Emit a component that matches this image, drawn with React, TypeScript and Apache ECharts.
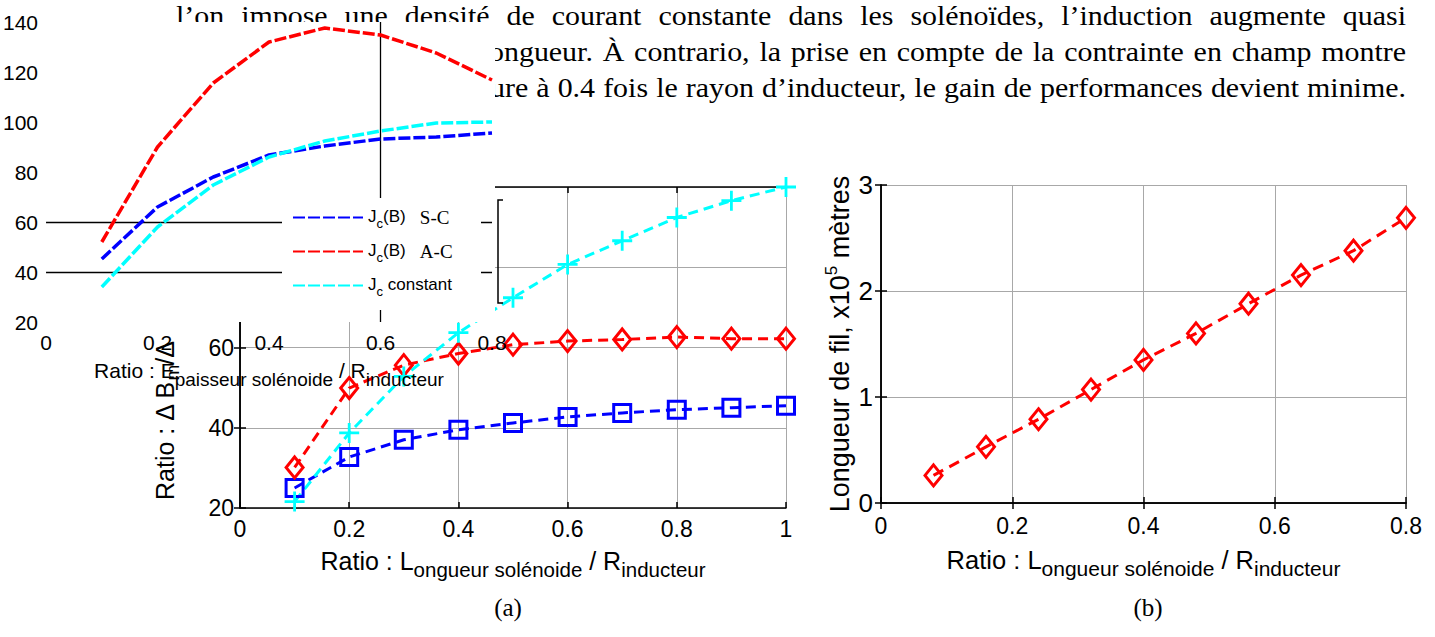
import React, { useEffect, useRef } from 'react';
import * as echarts from 'echarts';

const W = 1435;
const H = 637;
const SANS = 'Liberation Sans, Arial, sans-serif';
const SERIF = 'Liberation Serif, Times New Roman, serif';

// ---- data: chart (a) ----
const xA = [0.1, 0.2, 0.3, 0.4, 0.5, 0.6, 0.7, 0.8, 0.9, 1.0];
const aSC = [25, 32.7, 37, 39.5, 41.2, 42.7, 43.7, 44.5, 45, 45.5];
const aAC = [30.1, 49.9, 55.6, 58.5, 60.7, 61.6, 62, 62.6, 62.2, 62.2];
const aConst = [21.6, 38.7, 52.8, 63.7, 72.4, 80.7, 86.6, 92.4, 96.6, 100];

// ---- data: inset (épaisseur) ----
const xInset = [0.1, 0.2, 0.3, 0.4, 0.5, 0.6, 0.7, 0.8];
const insSC = [45.2, 66, 78, 86.8, 90.4, 93.2, 94, 95.6];
const insAC = [52, 90, 115.6, 132, 137.6, 134.8, 127.6, 116.8];
const insConst = [34, 58, 74.8, 86, 92.4, 96.4, 99.6, 100];
const insMarkY = [40, 60];
const insMarkX = [0.6];

// ---- data: chart (b) ----
const xB = [0.08, 0.16, 0.24, 0.32, 0.4, 0.48, 0.56, 0.64, 0.72, 0.8];
const bLen = [0.26, 0.53, 0.79, 1.07, 1.35, 1.6, 1.88, 2.15, 2.38, 2.69];

// ---- legend / text ----
const legendNames = ['S-C', 'A-C', 'constant'];
const paraLines = [
  'l’on impose une densité de courant constante dans les solénoïdes, l’induction augmente quasi',
  'ongueur. À contrario, la prise en compte de la contrainte en champ montre',
  'ure à 0.4 fois le rayon d’inducteur, le gain de performances devient minime.',
];

const zip = (xs: number[], ys: number[]) => xs.map((x, i) => [x, ys[i]]);

const PLUS = 'path://M4.3,0H5.7V4.3H10V5.7H5.7V10H4.3V5.7H0V4.3H4.3Z';

function axisBase(extra: any) {
  return {
    axisLine: { show: true, lineStyle: { color: '#000', width: 1.5 } },
    axisTick: { show: true, inside: true, length: 6, lineStyle: { color: '#000', width: 1.5 } },
    splitLine: { show: false },
    axisLabel: { show: false },
    ...extra,
  };
}

export default function App() {
  const ref = useRef<HTMLDivElement>(null);
  useEffect(() => {
    const chart = echarts.init(ref.current!, null, { renderer: 'svg' });

    // paragraph words, justified (the scanned text is slightly stretched horizontally)
    const canvas = document.createElement('canvas');
    const ctx = canvas.getContext('2d')!;
    const pSize = 28;
    ctx.font = `${pSize}px ${SERIF}`;
    const paraStarts = [176, 489, 490];
    const paraY = [15, 51, 87];
    const paraEnd = 1406;
    const lastWords = paraLines[2].split(' ');
    const lastNatural =
      lastWords.reduce((a, w) => a + ctx.measureText(w).width, 0) +
      (lastWords.length - 1) * pSize * 0.27;
    const sx = Math.max(0.9, Math.min(1.3, (paraEnd - paraStarts[2]) / lastNatural));
    const paraEls: any[] = [];
    paraLines.forEach((line, li) => {
      const words = line.split(' ');
      const widths = words.map((w) => ctx.measureText(w).width * sx);
      const total = widths.reduce((a, b) => a + b, 0);
      const gap = (paraEnd - paraStarts[li] - total) / (words.length - 1);
      let x = paraStarts[li];
      words.forEach((w, i) => {
        paraEls.push({
          type: 'text',
          x,
          y: paraY[li],
          scaleX: sx,
          z: 1,
          silent: true,
          style: {
            text: w,
            fontSize: pSize,
            fontFamily: SERIF,
            fill: '#000',
            textAlign: 'left',
            align: 'left',
            textVerticalAlign: 'middle',
            verticalAlign: 'middle',
          },
        });
        x += widths[i] + gap;
      });
    });

    const splitGray = { show: true, lineStyle: { color: '#a8a8a8', width: 1, type: 'solid' } };
    const lbl = (size: number, margin: number) => ({
      show: true,
      fontSize: size,
      fontFamily: SANS,
      color: '#000',
      margin,
    });

    const ratioRich = (base: number, sub: number, pad: number) => ({
      r: { fontFamily: SANS, fontSize: base, lineHeight: base + 3, verticalAlign: 'top', color: '#000' },
      s: { fontFamily: SANS, fontSize: sub, lineHeight: sub + 1, padding: [pad, 0, 0, 0], color: '#000' },
    });

    const legendFmt: Record<string, string> = {
      'S-C': '{j|J}{c|c}{j|(B)   }{s|S-C}',
      'A-C': '{j|J}{c|c}{j|(B)   }{s|A-C}',
      constant: '{j|J}{c|c}{j| constant}',
    };

    const option: any = {
      animation: false,
      backgroundColor: '#fff',
      grid: [
        { left: 240, top: 187, width: 546, height: 321, show: false },
        { left: 881, top: 185, width: 525, height: 318, show: false },
        { left: 46, top: 22, width: 446, height: 300, show: false },
      ],
      xAxis: [
        axisBase({
          gridIndex: 0, type: 'value', position: 'bottom', min: 0, max: 1, interval: 0.2,
          splitLine: splitGray, axisLabel: lbl(23, 9),
          name: '{r|Ratio : L}{s|ongueur solénoide}{r| / R}{s|inducteur}',
          nameLocation: 'middle', nameGap: 39,
          nameTextStyle: { rich: ratioRich(25, 20.5, 14) },
        }),
        axisBase({ gridIndex: 0, type: 'value', position: 'top', min: 0, max: 1, interval: 0.2 }),
        axisBase({
          gridIndex: 1, type: 'value', position: 'bottom', min: 0, max: 0.8, interval: 0.2,
          splitLine: splitGray, axisLabel: lbl(23, 11),
          name: '{r|Ratio : L}{s|ongueur solénoide}{r| / R}{s|inducteur}',
          nameLocation: 'middle', nameGap: 44,
          nameTextStyle: { rich: ratioRich(25.5, 21, 14) },
        }),
        axisBase({ gridIndex: 1, type: 'value', position: 'top', min: 0, max: 0.8, interval: 0.2 }),
        {
          gridIndex: 2, type: 'value', position: 'bottom', min: 0, max: 0.8, interval: 0.2, z: 6,
          axisLine: { show: false }, axisTick: { show: false }, splitLine: { show: false },
          axisLabel: lbl(21, 10),
          name: '{r|Ratio : E}{s|paisseur solénoide}{r| / R}{s|inducteur}',
          nameLocation: 'middle', nameGap: 38,
          nameTextStyle: { rich: ratioRich(21, 19, 14) },
        },
      ],
      yAxis: [
        axisBase({
          gridIndex: 0, type: 'value', position: 'left', min: 20, max: 100, interval: 20,
          splitLine: splitGray, axisLabel: lbl(23, 6),
        }),
        axisBase({ gridIndex: 0, type: 'value', position: 'right', min: 20, max: 100, interval: 20 }),
        axisBase({
          gridIndex: 1, type: 'value', position: 'left', min: 0, max: 3, interval: 1,
          splitLine: splitGray, axisLabel: lbl(26, 8),
          name: '{r|Longueur de fil, x10}{p|5}{r| mètres}',
          nameLocation: 'middle', nameGap: 28,
          nameTextStyle: {
            rich: {
              r: { fontFamily: SANS, fontSize: 27, lineHeight: 30, padding: [4, 0, 0, 0], color: '#000' },
              p: { fontFamily: SANS, fontSize: 17, lineHeight: 18, verticalAlign: 'top', color: '#000' },
            },
          },
        }),
        axisBase({ gridIndex: 1, type: 'value', position: 'right', min: 0, max: 3, interval: 1 }),
        {
          gridIndex: 2, type: 'value', position: 'left', min: 20, max: 140, interval: 20, z: 6,
          axisLine: { show: false }, axisTick: { show: false }, splitLine: { show: false },
          axisLabel: lbl(21, 8),
        },
      ],
      legend: {
        show: true,
        z: 9,
        orient: 'vertical',
        left: 292,
        top: 205,
        padding: 0,
        itemWidth: 70,
        itemHeight: 14,
        itemGap: 9,
        selectedMode: false,
        data: legendNames,
        formatter: (n: string) => legendFmt[n],
        itemStyle: { opacity: 0 },
        textStyle: {
          rich: {
            j: { fontFamily: SANS, fontSize: 17, lineHeight: 20, verticalAlign: 'top', color: '#000' },
            c: { fontFamily: SANS, fontSize: 13, lineHeight: 14, padding: [12, 0, 0, 0], color: '#000' },
            s: { fontFamily: SERIF, fontSize: 19, lineHeight: 20, verticalAlign: 'top', color: '#000' },
          },
        },
      },
      series: [
        // chart (a)
        {
          name: 'S-C (a)', type: 'line', xAxisIndex: 0, yAxisIndex: 0, data: zip(xA, aSC),
          symbol: 'rect', symbolSize: 17, silent: true,
          lineStyle: { color: '#0000ff', width: 3, type: [10, 6] },
          itemStyle: { color: 'rgba(0,0,0,0)', borderColor: '#0000ff', borderWidth: 3 },
        },
        {
          name: 'A-C (a)', type: 'line', xAxisIndex: 0, yAxisIndex: 0, data: zip(xA, aAC),
          symbol: 'diamond', symbolSize: [17, 21], silent: true,
          lineStyle: { color: '#ff0000', width: 3, type: [10, 6] },
          itemStyle: { color: 'rgba(0,0,0,0)', borderColor: '#ff0000', borderWidth: 3 },
        },
        {
          name: 'constant (a)', type: 'line', xAxisIndex: 0, yAxisIndex: 0, data: zip(xA, aConst),
          symbol: PLUS, symbolSize: 20, silent: true,
          lineStyle: { color: '#00ffff', width: 3, type: [10, 6] },
          itemStyle: { color: '#00ffff' },
        },
        // chart (b)
        {
          name: 'longueur', type: 'line', xAxisIndex: 2, yAxisIndex: 2, data: zip(xB, bLen),
          symbol: 'diamond', symbolSize: [17, 21], silent: true,
          lineStyle: { color: '#ff0000', width: 3, type: [11, 7] },
          itemStyle: { color: 'rgba(0,0,0,0)', borderColor: '#ff0000', borderWidth: 3 },
        },
        // inset
        {
          name: 'S-C', type: 'line', xAxisIndex: 4, yAxisIndex: 4, data: zip(xInset, insSC),
          symbol: 'none', z: 7, silent: true,
          lineStyle: { color: '#0000ff', width: 3.5, type: [12, 3] },
          itemStyle: { color: '#0000ff' },
          markLine: {
            silent: true, symbol: ['none', 'none'], label: { show: false },
            lineStyle: { color: '#000', width: 1.3, type: 'solid' },
            data: [...insMarkY.map((v) => ({ yAxis: v })), ...insMarkX.map((v) => ({ xAxis: v }))],
          },
        },
        {
          name: 'A-C', type: 'line', xAxisIndex: 4, yAxisIndex: 4, data: zip(xInset, insAC),
          symbol: 'none', z: 7, silent: true,
          lineStyle: { color: '#ff0000', width: 3.5, type: [12, 3] },
          itemStyle: { color: '#ff0000' },
        },
        {
          name: 'constant', type: 'line', xAxisIndex: 4, yAxisIndex: 4, data: zip(xInset, insConst),
          symbol: 'none', z: 7, silent: true,
          lineStyle: { color: '#00ffff', width: 3.5, type: [12, 3] },
          itemStyle: { color: '#00ffff' },
        },
      ],
      graphic: {
        elements: [
          ...paraEls,
          {
            type: 'text', x: 166, y: 500, rotation: Math.PI / 2, z: 1, silent: true,
            style: {
              text: '{r|Ratio : Δ B}{s|m}{r|/Δ}',
              rich: {
                r: { fontFamily: SANS, fontSize: 25, lineHeight: 28, verticalAlign: 'top', fill: '#000' },
                s: { fontFamily: SANS, fontSize: 19, lineHeight: 20, padding: [13, 0, 0, 0], fill: '#000' },
              },
              fill: '#000',
              textAlign: 'left', align: 'left',
              textVerticalAlign: 'middle', verticalAlign: 'middle',
            },
          },
          {
            type: 'rect', z: 5, silent: true,
            shape: { x: 0, y: 22, width: 495, height: 300 },
            style: { fill: '#fff' },
          },
          {
            type: 'rect', z: 8, silent: true,
            shape: { x: 282, y: 198, width: 199, height: 112 },
            style: { fill: '#fff' },
          },
          {
            type: 'polyline', z: 9, silent: true,
            shape: { points: [[503, 200], [498, 200], [498, 303], [503, 303]] },
            style: { stroke: '#000', lineWidth: 1.5, fill: 'none' },
          },
          {
            type: 'text', x: 508, y: 607, z: 1, silent: true,
            style: {
              text: '(a)', fontSize: 25, fontFamily: SERIF, fill: '#000',
              textAlign: 'center', align: 'center', textVerticalAlign: 'middle', verticalAlign: 'middle',
            },
          },
          {
            type: 'text', x: 1148, y: 607, z: 1, silent: true,
            style: {
              text: '(b)', fontSize: 25, fontFamily: SERIF, fill: '#000',
              textAlign: 'center', align: 'center', textVerticalAlign: 'middle', verticalAlign: 'middle',
            },
          },
        ],
      },
    };

    chart.setOption(option);
    return () => chart.dispose();
  }, []);

  return (
    <div
      ref={ref}
      style={{ position: 'absolute', left: 0, top: 0, width: W, height: H, background: '#fff' }}
    />
  );
}
